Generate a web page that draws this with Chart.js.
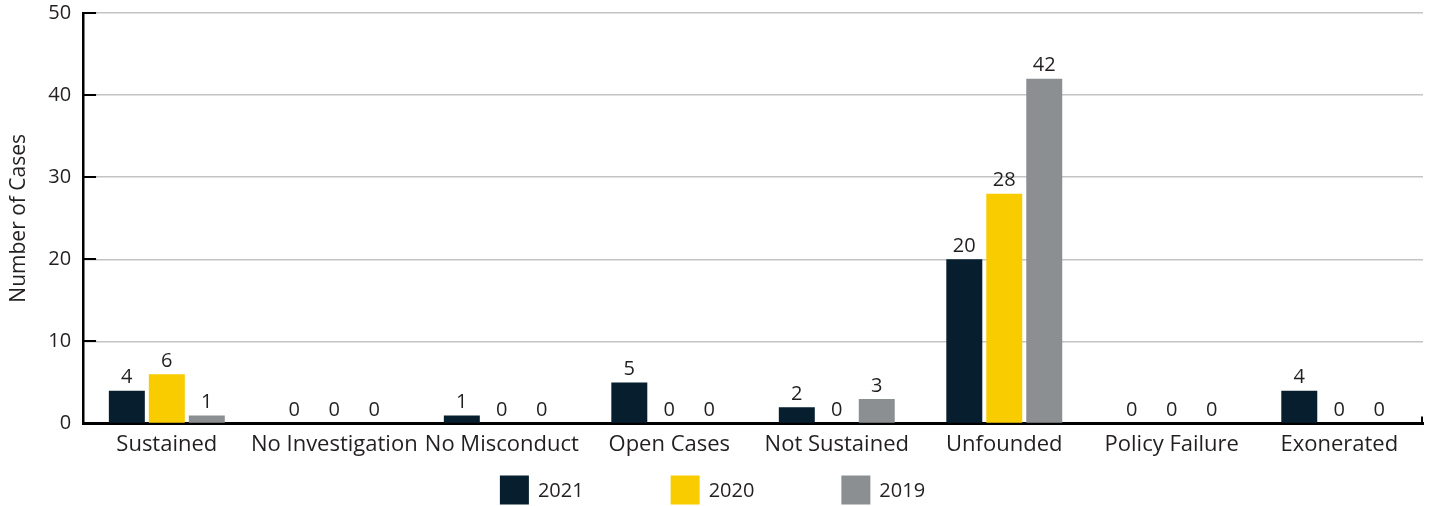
<!DOCTYPE html>
<html>
<head>
<meta charset="utf-8">
<script src="https://cdn.jsdelivr.net/npm/chart.js@4.4.1/dist/chart.umd.min.js"></script>
<style>
  html, body { margin: 0; padding: 0; background: #ffffff; }
  #wrap { width: 1433px; height: 506px; }
</style>
</head>
<body>
<div id="wrap"><canvas id="casesChart"></canvas></div>
<script>
var categories = ['Sustained', 'No Investigation', 'No Misconduct', 'Open Cases',
                  'Not Sustained', 'Unfounded', 'Policy Failure', 'Exonerated'];
var cases2021 = [4, 0, 1, 5, 2, 20, 0, 4];
var cases2020 = [6, 0, 0, 0, 0, 28, 0, 0];
var cases2019 = [1, 0, 0, 0, 3, 42, 0, 0];
var yTicks = [0, 10, 20, 30, 40, 50];

var FONT = "'Open Sans', 'Noto Sans', sans-serif";
var INK = '#231f20';

// value labels above each bar, including the zero ones sitting on the baseline
var valueLabels = {
    id: 'valueLabels',
    afterDatasetsDraw: function (chart) {
        var ctx = chart.ctx;
        ctx.save();
        ctx.font = '20px ' + FONT;
        ctx.fillStyle = INK;
        ctx.textAlign = 'center';
        ctx.textBaseline = 'bottom';
        chart.data.datasets.forEach(function (ds, i) {
            chart.getDatasetMeta(i).data.forEach(function (bar, j) {
                ctx.fillText(String(ds.data[j]), bar.x, bar.y - 3);
            });
        });
        ctx.restore();
    }
};

// short black tick marks inside the y axis, plus the end tick on the x axis
var axisMarks = {
    id: 'axisMarks',
    afterDraw: function (chart) {
        var ctx = chart.ctx;
        var y = chart.scales.y;
        var area = chart.chartArea;
        ctx.save();
        ctx.strokeStyle = '#000000';
        ctx.lineWidth = 2;
        yTicks.forEach(function (v) {
            var py = Math.round(y.getPixelForValue(v));
            ctx.beginPath();
            ctx.moveTo(area.left, py);
            ctx.lineTo(area.left + 13, py);
            ctx.stroke();
        });
        ctx.beginPath();
        ctx.moveTo(area.right - 1, area.bottom);
        ctx.lineTo(area.right - 1, area.bottom - 7);
        ctx.stroke();
        ctx.restore();
    }
};

// legend row under the axis labels: big square swatch, year, wide gaps
var yearLegend = {
    id: 'yearLegend',
    afterDraw: function (chart) {
        var ctx = chart.ctx;
        var box = 29, gap = 9, spacing = 87;
        ctx.save();
        ctx.font = '20px ' + FONT;
        ctx.textBaseline = 'middle';
        ctx.textAlign = 'left';
        var items = chart.data.datasets.map(function (ds) {
            return { text: ds.label, color: ds.backgroundColor, w: ctx.measureText(ds.label).width };
        });
        var total = items.reduce(function (s, it) { return s + box + gap + it.w; }, 0) + spacing * (items.length - 1);
        var x = chart.width / 2 - total / 2 - 4;
        var cy = chart.height - 16;
        items.forEach(function (it) {
            ctx.fillStyle = it.color;
            ctx.fillRect(x, cy - box / 2, box, box);
            ctx.fillStyle = INK;
            ctx.fillText(it.text, x + box + gap, cy + 1);
            x += box + gap + it.w + spacing;
        });
        ctx.restore();
    }
};

new Chart(document.getElementById('casesChart'), {
    type: 'bar',
    data: {
        labels: categories,
        datasets: [
            { label: '2021', data: cases2021, backgroundColor: '#071e2e' },
            { label: '2020', data: cases2020, backgroundColor: '#f9cc00' },
            { label: '2019', data: cases2019, backgroundColor: '#8b8f92' }
        ]
    },
    options: {
        responsive: true,
        maintainAspectRatio: false,
        animation: false,
        devicePixelRatio: 1,
        layout: { padding: { left: 6, right: 10, top: 13, bottom: 40 } },
        datasets: {
            bar: { categoryPercentage: 0.716, barPercentage: 0.9 }
        },
        plugins: {
            tooltip: { enabled: false },
            legend: { display: false }
        },
        scales: {
            x: {
                grid: { display: false, drawTicks: false },
                border: { color: '#000000', width: 3 },
                ticks: {
                    color: INK,
                    padding: 8,
                    maxRotation: 0,
                    autoSkip: false,
                    font: { family: FONT, size: 22 }
                }
            },
            y: {
                min: 0,
                max: 50,
                afterBuildTicks: function (scale) {
                    scale.ticks = yTicks.map(function (v) { return { value: v }; });
                },
                afterFit: function (scale) {
                    scale.paddingTop = 0;
                },
                grid: { color: '#c4c4c4', lineWidth: 1.5, drawTicks: false },
                border: { color: '#000000', width: 2.5 },
                ticks: {
                    color: INK,
                    padding: 12,
                    font: { family: FONT, size: 20 }
                },
                title: {
                    display: true,
                    text: 'Number of Cases',
                    color: INK,
                    padding: { top: 0, bottom: 5 },
                    font: { family: FONT, size: 21 }
                }
            }
        }
    },
    plugins: [valueLabels, axisMarks, yearLegend]
});
</script>
</body>
</html>
